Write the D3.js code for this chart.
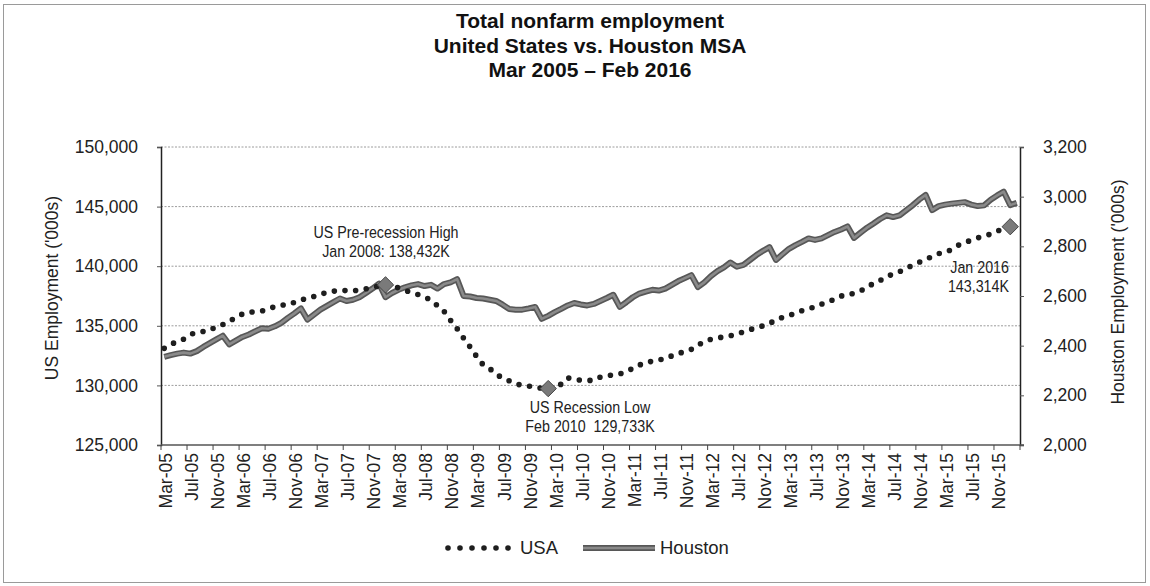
<!DOCTYPE html>
<html>
<head>
<meta charset="utf-8">
<script src="https://cdn.jsdelivr.net/npm/d3@7"></script>
<style>
  body { margin: 0; background: #fff; }
  svg { font-family: "Liberation Sans", Arial, sans-serif; }
  text { white-space: pre; }
</style>
</head>
<body>
<svg width="1150" height="586"></svg>
<script>
// Monthly categories Mar 2005 .. Feb 2016
const months = d3.timeMonth.range(new Date(2005, 2, 1), new Date(2016, 2, 1));
const tickLabels = months.filter((d, i) => i % 4 === 0).map(d3.timeFormat('%b-%y'));

// US total nonfarm, SA ('000s), Mar 2005 .. Jan 2016
const usa = [
  133110, 133470, 133640, 133887, 134257, 134453, 134521, 134605, 134942, 135100,
  135381, 135701, 135983, 136155, 136159, 136240, 136446, 136594, 136750, 136751, 136968, 137133,
  137374, 137457, 137680, 137759, 137902, 137980, 137944, 137926, 138016, 138103, 138218, 138350,
  138432, 138300, 138188, 137978, 137788, 137619, 137422, 137147, 136687, 136210, 135457, 134763,
  133972, 133222, 132427, 131730, 131416, 130949, 130607, 130393, 130153, 129990, 129940, 129810,
  129780, 129733, 129870, 130101, 130632, 130510, 130439, 130422, 130419, 130690, 130814, 130885,
  130963, 131183, 131419, 131725, 131826, 132061, 132131, 132244, 132480, 132690, 132823, 133027,
  133391, 133652, 133878, 133957, 134090, 134169, 134320, 134492, 134677, 134836, 134993, 135235,
  135424, 135723, 135864, 136052, 136270, 136440, 136570, 136819, 137009, 137234, 137505, 137551,
  137741, 137926, 138228, 138566, 138800, 139116, 139345, 139541, 139840, 140061, 140324, 140592,
  140793, 141059, 141144, 141412, 141758, 141958, 142200, 142380, 142520, 142700, 142950, 143150,
  143314
];

// Houston MSA total nonfarm, NSA ('000s), Mar 2005 .. Feb 2016
const houston = [
  2355, 2362, 2368, 2372, 2368, 2378, 2395, 2410, 2425, 2440,
  2405, 2420, 2435, 2445, 2458, 2470, 2468, 2478, 2492, 2512, 2530, 2550,
  2505, 2525, 2545, 2560, 2575, 2590, 2580, 2585, 2595, 2612, 2630, 2650,
  2595, 2612, 2625, 2635, 2643, 2648, 2640, 2645, 2630, 2648, 2655, 2668,
  2600, 2598, 2592, 2590, 2585, 2580, 2565, 2548, 2545, 2545, 2550, 2556,
  2508, 2520, 2535, 2548, 2562, 2572, 2566, 2562, 2568, 2580, 2592, 2605,
  2556, 2575, 2595, 2610, 2618, 2625, 2622, 2630, 2645, 2660, 2672, 2684,
  2636, 2655, 2680, 2700, 2715, 2735, 2718, 2725, 2745, 2765, 2782, 2797,
  2745, 2768, 2790, 2805, 2818, 2832, 2826, 2832, 2845, 2858, 2868, 2880,
  2834, 2855, 2875, 2892, 2910, 2925, 2918, 2925, 2945, 2965, 2988, 3007,
  2946, 2962, 2968, 2972, 2975, 2978, 2968, 2962, 2965, 2988, 3005, 3020,
  2966, 2975
];

const leftTicks = [125000, 130000, 135000, 140000, 145000, 150000];
const rightTicks = [2000, 2200, 2400, 2600, 2800, 3000, 3200];

const titleLines = ['Total nonfarm employment', 'United States vs. Houston MSA', 'Mar 2005 \u2013 Feb 2016'];

// highlighted points: month index, value, label lines
const callouts = [
  { i: 34, v: 138432, lines: ['US Pre-recession High', 'Jan 2008: 138,432K'] },
  { i: 59, v: 129733, lines: ['US Recession Low', 'Feb 2010  129,733K'] },
  { i: 130, v: 143314, lines: ['Jan 2016', '143,314K'] },
];

const svg = d3.select('svg');
const plot = { left: 161, right: 1020, top: 147, bottom: 445 };
const narrow = 0.84; // squeeze to mimic a narrow typeface

const x = d3.scaleLinear().domain([0, months.length]).range([plot.left, plot.right]);
const yL = d3.scaleLinear().domain([125000, 150000]).range([plot.bottom, plot.top]);
const yR = d3.scaleLinear().domain([2000, 3200]).range([plot.bottom, plot.top]);
const fmt = d3.format(',');

// frame
svg.append('rect')
  .attr('x', 3.5).attr('y', 4.5).attr('width', 1142).attr('height', 578)
  .attr('fill', 'none').attr('stroke', '#9a9a9a');

// title
svg.append('g').selectAll('text')
  .data(titleLines)
  .enter().append('text')
    .attr('x', 590)
    .attr('y', (d, i) => 28 + i * 24.5)
    .attr('text-anchor', 'middle')
    .attr('font-size', 21)
    .attr('font-weight', 'bold')
    .attr('fill', '#111')
    .text(d => d);

// gridlines
svg.append('g').selectAll('line')
  .data(leftTicks.slice(1))
  .enter().append('line')
    .attr('x1', plot.left).attr('x2', plot.right)
    .attr('y1', d => yL(d)).attr('y2', d => yL(d))
    .attr('stroke', '#9c9c9c')
    .attr('stroke-dasharray', '2,1.5');

// left axis
const leftAxis = svg.append('g')
  .attr('transform', `translate(${plot.left},0)`)
  .call(d3.axisLeft(yL).tickValues(leftTicks).tickFormat(fmt).tickSize(4).tickPadding(19));
leftAxis.select('.domain').attr('stroke', '#222').attr('stroke-width', 1.5);
leftAxis.selectAll('.tick line').attr('stroke', '#555');
leftAxis.selectAll('text').attr('font-size', 17.5).attr('fill', '#222').attr('font-family', null);

// right axis
const rightAxis = svg.append('g')
  .attr('transform', `translate(${plot.right},0)`)
  .call(d3.axisRight(yR).tickValues(rightTicks).tickFormat(fmt).tickSize(4).tickPadding(19));
rightAxis.select('.domain').attr('stroke', '#222').attr('stroke-width', 1.5);
rightAxis.selectAll('.tick line').attr('stroke', '#555');
rightAxis.selectAll('text').attr('font-size', 17.5).attr('fill', '#222').attr('font-family', null);

// bottom axis
const tickIdx = d3.range(0, months.length, 4);
const bottom = svg.append('g');
bottom.append('line')
  .attr('x1', plot.left).attr('x2', plot.right + 4)
  .attr('y1', plot.bottom).attr('y2', plot.bottom)
  .attr('stroke', '#555').attr('stroke-width', 1.3);
bottom.selectAll('line.tick')
  .data(tickIdx.concat([months.length]))
  .enter().append('line')
    .attr('class', 'tick')
    .attr('x1', d => x(d)).attr('x2', d => x(d))
    .attr('y1', plot.bottom).attr('y2', plot.bottom + 5)
    .attr('stroke', '#444');
bottom.selectAll('text')
  .data(tickIdx)
  .enter().append('text')
    .attr('transform', d => `translate(${x(d) + 5},${plot.bottom + 8}) rotate(-90)`)
    .attr('text-anchor', 'end')
    .attr('dy', '0.35em')
    .attr('font-size', 17.5)
    .attr('fill', '#222')
    .text((d, i) => tickLabels[i]);

// axis titles
svg.append('text')
  .attr('transform', 'translate(52,288) rotate(-90)')
  .attr('text-anchor', 'middle').attr('dy', '0.35em')
  .attr('font-size', 17.5).attr('fill', '#222')
  .text("US Employment ('000s)");
svg.append('text')
  .attr('transform', 'translate(1118,292) rotate(-90)')
  .attr('text-anchor', 'middle').attr('dy', '0.35em')
  .attr('font-size', 17.5).attr('fill', '#222')
  .text("Houston Employment ('000s)");

// series
const usLine = d3.line().x((d, i) => x(i + 0.5)).y(d => yL(d));
const hoLine = d3.line().x((d, i) => x(i + 0.5)).y(d => yR(d));

svg.append('path')
  .datum(houston)
  .attr('d', hoLine)
  .attr('fill', 'none')
  .attr('stroke', '#575757')
  .attr('stroke-width', 6)
  .attr('stroke-linejoin', 'round');
svg.append('path')
  .datum(houston)
  .attr('d', hoLine)
  .attr('fill', 'none')
  .attr('stroke', '#8a8a8a')
  .attr('stroke-width', 2.6)
  .attr('stroke-linejoin', 'round');

svg.append('path')
  .datum(usa)
  .attr('d', usLine)
  .attr('fill', 'none')
  .attr('stroke', '#1e1e1e')
  .attr('stroke-width', 5.6)
  .attr('stroke-linecap', 'round')
  .attr('stroke-dasharray', '0,10.7');

// callout markers
const diamond = d3.symbol().type(d3.symbolDiamond2).size(170);
svg.append('g').selectAll('path')
  .data(callouts)
  .enter().append('path')
    .attr('d', diamond)
    .attr('transform', d => `translate(${x(d.i + 0.5)},${yL(d.v)})`)
    .attr('fill', '#7a7a7a')
    .attr('stroke', '#444')
    .attr('stroke-width', 1);

// callout labels
const labelPos = [
  { x: 386, y: 232, anchor: 'middle' },
  { x: 590, y: 407, anchor: 'middle' },
  { x: 1009, y: 267, anchor: 'end' },
];
callouts.forEach((c, k) => {
  svg.append('g').selectAll('text')
    .data(c.lines)
    .enter().append('text')
      .attr('transform', (d, i) => `translate(${labelPos[k].x},${labelPos[k].y + i * 19}) scale(${narrow},1)`)
      .attr('dy', '0.35em')
      .attr('text-anchor', labelPos[k].anchor)
      .attr('font-size', 17)
      .attr('fill', '#222')
      .text(d => d);
});

// legend
const legend = svg.append('g').attr('transform', 'translate(0,548)');
legend.append('line')
  .attr('x1', 448).attr('x2', 510).attr('y1', 0).attr('y2', 0)
  .attr('stroke', '#1e1e1e').attr('stroke-width', 5.6)
  .attr('stroke-linecap', 'round').attr('stroke-dasharray', '0,12');
legend.append('text')
  .attr('x', 520).attr('dy', '0.35em')
  .attr('font-size', 18.5).attr('fill', '#222')
  .text('USA');
legend.append('line')
  .attr('x1', 583).attr('x2', 655).attr('y1', 0).attr('y2', 0)
  .attr('stroke', '#575757').attr('stroke-width', 6);
legend.append('line')
  .attr('x1', 583).attr('x2', 655).attr('y1', 0).attr('y2', 0)
  .attr('stroke', '#8a8a8a').attr('stroke-width', 2.6);
legend.append('text')
  .attr('x', 660).attr('dy', '0.35em')
  .attr('font-size', 18.5).attr('fill', '#222')
  .text('Houston');
</script>
</body>
</html>
